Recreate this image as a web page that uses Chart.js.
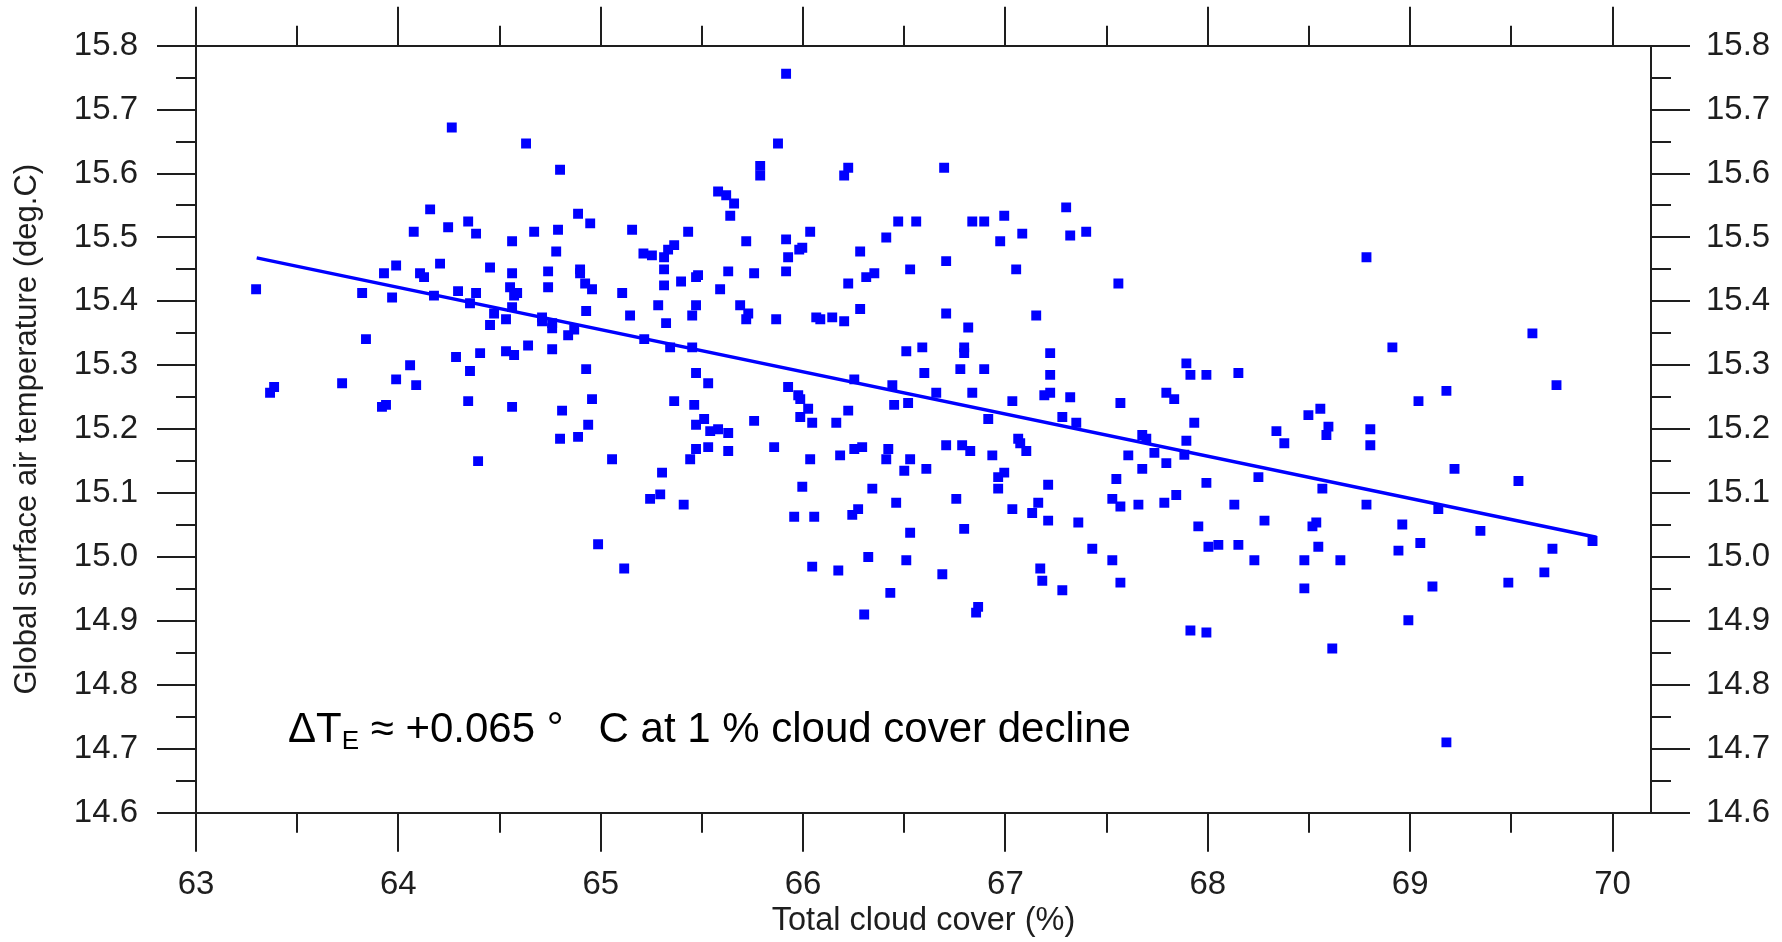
<!DOCTYPE html>
<html>
<head>
<meta charset="utf-8">
<script src="https://cdn.jsdelivr.net/npm/chart.js@4.4.1/dist/chart.umd.min.js"></script>
<style>
html,body{margin:0;padding:0;background:#fff;}
canvas{display:block;}
</style>
</head>
<body>
<canvas id="c" width="1782" height="942"></canvas>
<script>
// ---- data ----
const cloudCover = [
64.264,64.631,64.799,64.157,64.076,64.246,64.345,64.384,64.671,64.789,
64.888,64.948,65.155,64.562,64.780,65.211,65.253,65.313,65.333,65.363,
65.313,65.397,65.313,63.989,63.929,64.107,64.127,64.206,64.453,64.562,
64.740,64.898,64.898,64.740,64.923,64.957,65.106,63.297,63.821,63.969,
64.176,64.295,64.384,64.552,64.587,64.572,64.354,64.562,64.473,64.532,
64.453,64.710,64.710,64.760,64.760,64.869,64.839,64.928,65.145,65.284,
65.323,65.215,65.343,63.840,64.285,64.404,64.532,64.572,64.641,64.760,
64.058,64.354,64.928,63.386,63.366,63.722,63.989,64.088,63.939,63.919,
64.345,64.562,64.809,64.957,65.363,64.938,64.799,64.888,64.394,65.056,
65.303,65.244,65.294,65.410,64.987,65.116,
65.916,65.876,65.788,65.788,66.223,66.203,66.697,65.580,65.620,65.659,
65.640,65.432,65.719,65.916,66.035,65.996,65.981,65.926,66.282,66.411,
66.470,66.559,66.836,66.895,66.994,66.974,67.083,67.300,67.320,67.399,
66.707,66.529,67.053,67.558,65.630,65.758,65.916,65.471,65.481,65.590,
66.223,66.312,66.352,65.471,65.452,65.689,65.729,65.719,65.867,66.065,
66.085,66.144,66.203,66.282,66.707,66.816,67.152,
65.452,66.510,66.589,66.796,66.796,67.221,65.471,65.531,66.599,66.777,
66.895,67.221,66.253,66.441,65.926,65.976,65.986,66.025,65.986,66.045,
66.223,66.164,66.658,66.836,66.450,66.519,67.034,67.192,67.221,67.320,
67.568,67.795,67.834,66.915,67.281,67.350,65.462,65.511,65.471,65.541,
65.580,65.630,65.758,65.471,65.531,65.442,65.630,65.857,66.035,66.183,
66.253,66.292,66.421,66.411,66.529,66.500,66.609,66.707,66.786,66.826,
66.935,67.063,67.073,67.103,67.676,67.696,67.607,67.736,67.676,67.795,
67.548,66.964,66.994,66.964,67.211,65.996,66.342,66.460,66.757,67.034,
67.162,67.132,67.211,67.360,67.528,67.568,67.657,67.785,67.844,65.956,
66.055,66.272,66.243,66.529,66.796,67.429,67.528,66.322,66.510,66.045,
66.174,66.688,67.172,67.182,67.281,67.568,66.431,66.302,66.865,66.855,
68.784,68.912,69.604,69.723,67.894,67.914,67.993,68.151,67.933,67.894,
67.884,68.339,68.378,68.497,68.556,68.596,68.586,68.803,68.803,69.041,
69.179,69.219,69.535,67.993,68.250,68.131,68.566,68.784,69.139,
68.280,67.953,68.536,68.517,68.961,69.347,69.901,68.003,68.052,68.151,
68.546,68.942,69.050,69.703,68.230,68.477,68.655,69.663,69.485,68.477,
69.110,68.991,67.914,67.993,68.615,69.179
];
const airTemperature = [
15.672,15.647,15.606,15.544,15.509,15.516,15.525,15.506,15.509,15.512,
15.537,15.522,15.512,15.494,15.478,15.475,15.472,15.469,15.481,15.488,
15.450,15.431,15.425,15.456,15.444,15.444,15.438,15.459,15.453,15.444,
15.447,15.450,15.444,15.422,15.428,15.419,15.413,15.419,15.413,15.406,
15.409,15.416,15.413,15.422,15.413,15.409,15.397,15.391,15.381,15.372,
15.363,15.375,15.369,15.366,15.358,15.356,15.347,15.385,15.378,15.394,
15.366,15.341,15.328,15.341,15.313,15.319,15.322,15.316,15.331,15.325,
15.300,15.291,15.294,15.266,15.257,15.272,15.278,15.269,15.238,15.235,
15.244,15.235,15.229,15.247,15.244,15.207,15.185,15.188,15.150,15.153,
15.132,15.091,15.098,15.082,15.020,14.982,
15.756,15.647,15.612,15.597,15.609,15.597,15.609,15.572,15.566,15.553,
15.534,15.509,15.494,15.497,15.509,15.484,15.481,15.469,15.478,15.500,
15.525,15.525,15.525,15.525,15.534,15.494,15.506,15.547,15.503,15.509,
15.463,15.450,15.450,15.428,15.447,15.444,15.447,15.438,15.441,15.419,
15.428,15.438,15.444,15.394,15.378,15.394,15.381,15.372,15.372,15.375,
15.372,15.375,15.369,15.388,15.381,15.359,15.378,
15.328,15.322,15.328,15.328,15.319,15.319,15.288,15.272,15.288,15.294,
15.294,15.285,15.278,15.269,15.266,15.253,15.247,15.232,15.219,15.210,
15.229,15.210,15.257,15.257,15.238,15.241,15.244,15.253,15.257,15.250,
15.241,15.257,15.247,15.216,15.219,15.210,15.238,15.216,15.207,15.197,
15.200,15.194,15.213,15.169,15.172,15.153,15.166,15.172,15.153,15.159,
15.169,15.172,15.169,15.153,15.153,15.135,15.138,15.175,15.175,15.166,
15.159,15.185,15.178,15.166,15.191,15.185,15.159,15.163,15.138,15.147,
15.122,15.125,15.132,15.107,15.113,15.110,15.107,15.085,15.091,15.075,
15.085,15.069,15.057,15.054,15.091,15.079,15.082,15.085,15.097,15.063,
15.063,15.075,15.066,15.038,15.044,15.013,14.995,15.000,14.995,14.985,
14.979,14.973,14.982,14.963,14.948,14.960,14.944,14.910,14.922,14.913,
15.469,15.328,15.350,15.269,15.303,15.285,15.285,15.288,15.210,15.182,
15.160,15.197,15.178,15.222,15.232,15.204,15.191,15.200,15.175,15.244,
15.260,15.138,15.119,15.116,15.125,15.082,15.107,15.082,15.075,
15.057,15.048,15.054,15.048,15.051,15.041,15.025,15.016,15.019,15.019,
15.016,15.010,15.022,15.013,14.995,14.995,14.995,14.976,14.960,14.951,
14.954,14.901,14.885,14.882,14.857,14.710
];
// regression line end points
const trendCloud = [63.30, 69.92];
const trendTemp = [15.468, 15.031];

// axes
const xRange = [63, 70.19];
const yRange = [14.6, 15.8];
const xMajorTicks = [63, 64, 65, 66, 67, 68, 69, 70];
const xMinorTicks = [63.5, 64.5, 65.5, 66.5, 67.5, 68.5, 69.5];
const yMajorTicks = [14.6, 14.7, 14.8, 14.9, 15.0, 15.1, 15.2, 15.3, 15.4, 15.5, 15.6, 15.7, 15.8];
const yMinorTicks = [14.65, 14.75, 14.85, 14.95, 15.05, 15.15, 15.25, 15.35, 15.45, 15.55, 15.65, 15.75];

const xTitle = 'Total cloud cover (%)';
const yTitle = 'Global surface air temperature (deg.C)';
const noteMain = 'ΔT';
const noteSub = 'E';
const noteRest = ' ≈ +0.065 °   C at 1 % cloud cover decline';

// ---- styling ----
const FONT = "'Liberation Sans', Arial, Helvetica, sans-serif";
const AXIS = '#1e1e1e';
const TEXT = '#1e1e1e';
const BLUE = '#0000ff';
const MAJOR_LEN = 39;
const MINOR_LEN = 20;

const points = cloudCover.map((v, i) => ({x: v, y: airTemperature[i]}));
const trend = trendCloud.map((v, i) => ({x: v, y: trendTemp[i]}));

function setTicks(list) {
  return (scale) => { scale.ticks = list.map(v => ({value: v})); };
}
const gridOpts = {
  drawOnChartArea: false, drawTicks: true, tickLength: MAJOR_LEN,
  color: AXIS, lineWidth: 2, tickColor: AXIS, tickWidth: 2
};
const borderOpts = {display: true, color: AXIS, width: 2};

const extras = {
  id: 'extras',
  afterDraw(chart) {
    const ctx = chart.ctx;
    const sx = chart.scales.x, sx2 = chart.scales.x2, sy = chart.scales.y, sy2 = chart.scales.y2;
    ctx.save();
    ctx.strokeStyle = AXIS;
    ctx.lineWidth = 2;
    ctx.beginPath();
    xMinorTicks.forEach(v => {
      const p = Math.round(sx.getPixelForValue(v));
      ctx.moveTo(p, sx.top); ctx.lineTo(p, sx.top + MINOR_LEN);
      ctx.moveTo(p, sx2.bottom); ctx.lineTo(p, sx2.bottom - MINOR_LEN);
    });
    yMinorTicks.forEach(v => {
      const p = Math.round(sy.getPixelForValue(v));
      ctx.moveTo(sy.right, p); ctx.lineTo(sy.right - MINOR_LEN, p);
      ctx.moveTo(sy2.left, p); ctx.lineTo(sy2.left + MINOR_LEN, p);
    });
    ctx.stroke();

    // annotation text
    const a = chart.chartArea;
    const x0 = a.left + 92, base = a.top + 696;
    ctx.fillStyle = '#000';
    ctx.textBaseline = 'alphabetic';
    ctx.textAlign = 'left';
    ctx.font = '42px ' + FONT;
    ctx.fillText(noteMain, x0, base);
    let x1 = x0 + ctx.measureText(noteMain).width;
    ctx.font = '26px ' + FONT;
    ctx.fillText(noteSub, x1, base + 7.5);
    x1 += ctx.measureText(noteSub).width;
    ctx.font = '42px ' + FONT;
    ctx.fillText(noteRest, x1, base);
    ctx.restore();
  }
};

new Chart(document.getElementById('c'), {
  type: 'scatter',
  data: {
    datasets: [
      {
        label: 'trend', data: trend, showLine: true,
        borderColor: BLUE, borderWidth: 3.5, pointRadius: 0, fill: false
      },
      {
        label: 'monthly', data: points,
        pointStyle: 'rect', radius: 7, pointRadius: 7,
        backgroundColor: BLUE, borderWidth: 0, borderColor: BLUE
      }
    ]
  },
  options: {
    responsive: false,
    devicePixelRatio: 1,
    animation: false,
    events: [],
    layout: {padding: 0},
    plugins: {legend: {display: false}, tooltip: {enabled: false}},
    scales: {
      x: {
        type: 'linear', position: 'bottom', min: xRange[0], max: xRange[1],
        afterBuildTicks: setTicks(xMajorTicks),
        afterFit: s => { s.height = 129.3; },
        grid: gridOpts, border: borderOpts,
        ticks: {autoSkip: false, maxRotation: 0, padding: 13, color: TEXT,
          font: {family: FONT, size: 33}, callback: v => String(v)},
        title: {display: true, text: xTitle, color: TEXT,
          font: {family: FONT, size: 32.5}, padding: {top: 0, bottom: 1}}
      },
      x2: {
        type: 'linear', position: 'top', min: xRange[0], max: xRange[1],
        afterBuildTicks: setTicks(xMajorTicks),
        afterFit: s => { s.height = 45.7; },
        grid: gridOpts, border: borderOpts,
        ticks: {display: false}
      },
      y: {
        type: 'linear', position: 'left', min: yRange[0], max: yRange[1],
        afterBuildTicks: setTicks(yMajorTicks),
        afterFit: s => { s.width = 196; },
        grid: gridOpts, border: borderOpts,
        ticks: {autoSkip: false, padding: 19, color: TEXT,
          font: {family: FONT, size: 33}, callback: v => v.toFixed(1)},
        title: {display: true, text: yTitle, color: TEXT,
          font: {family: FONT, size: 31}, padding: {top: 9, bottom: 0}}
      },
      y2: {
        type: 'linear', position: 'right', min: yRange[0], max: yRange[1],
        afterBuildTicks: setTicks(yMajorTicks),
        afterFit: s => { s.width = 131; },
        grid: gridOpts, border: borderOpts,
        ticks: {autoSkip: false, padding: 16, color: TEXT,
          font: {family: FONT, size: 33}, callback: v => v.toFixed(1)}
      }
    }
  },
  plugins: [extras]
});
</script>
</body>
</html>
